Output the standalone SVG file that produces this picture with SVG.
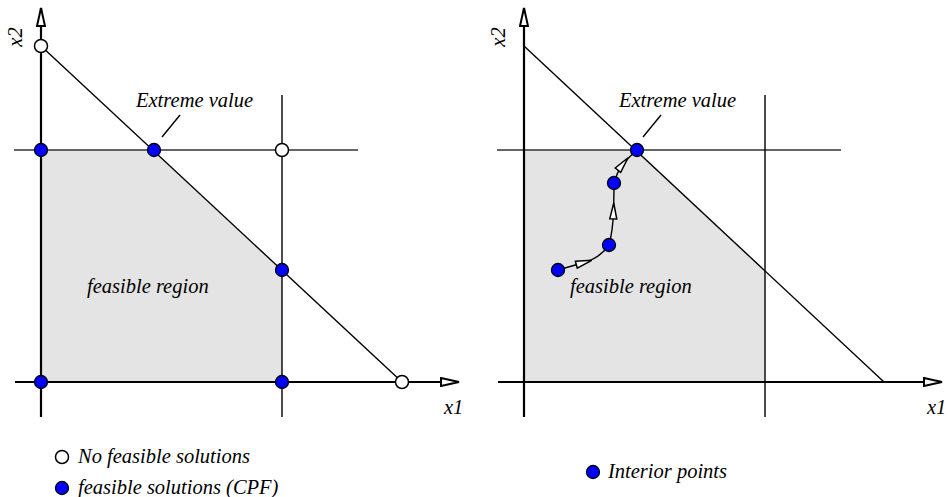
<svg xmlns="http://www.w3.org/2000/svg" width="950" height="497" viewBox="0 0 950 497">
<style>
.axis{stroke:#000;stroke-width:2.2;fill:none}
.ln{stroke:#000;stroke-width:1.4;fill:none}
.hl{stroke:#333;stroke-width:1.4;fill:none}
.reg{fill:#e4e4e4;stroke:none}
.cpf{fill:#0000ff;stroke:#000;stroke-width:1.3}
.nf{fill:#fff;stroke:#000;stroke-width:1.5}
.path{stroke:#000;stroke-width:1.4;fill:none}
</style>
<defs>
<marker id="ax" viewBox="0 0 20 10" refX="19" refY="5" markerWidth="20" markerHeight="10" markerUnits="userSpaceOnUse" orient="auto">
<path d="M1,1 L19,5 L1,9 Z" fill="#fff" stroke="#000" stroke-width="2"/>
</marker>
<marker id="mid" viewBox="0 0 18 10" refX="9" refY="5" markerWidth="18" markerHeight="10" markerUnits="userSpaceOnUse" orient="auto">
<path d="M1,1.5 L17,5 L1,8.5 Z" fill="#fff" stroke="#000" stroke-width="1.5"/>
</marker>
</defs>

<g id="left-panel">
<polygon class="reg" points="41,150 154,150 282,270 282,382 41,382"/>
<g id="left-lines">
<line class="hl" x1="14" y1="150" x2="358" y2="150"/>
<line class="ln" x1="282" y1="95" x2="282" y2="417"/>
<line class="ln" x1="41" y1="46" x2="402" y2="382"/>
<line class="ln" x1="162" y1="137" x2="180" y2="115"/>
<line class="axis" x1="41" y1="417" x2="41" y2="8" marker-end="url(#ax)"/>
<line class="axis" x1="15" y1="382" x2="459" y2="382" marker-end="url(#ax)"/>
</g>
<g font-family="Liberation Serif, serif" font-style="italic" font-size="20.5">
<text transform="translate(22,37) rotate(-90)" text-anchor="middle">x2</text>
<text x="444" y="414">x1</text>
<text x="136" y="107">Extreme value</text>
<text x="87" y="293">feasible region</text>
</g>
<g id="left-points">
<circle class="nf" cx="41" cy="46" r="6.5"/>
<circle class="nf" cx="282" cy="150" r="6.5"/>
<circle class="nf" cx="402" cy="382" r="6.5"/>
<circle class="cpf" cx="41" cy="150" r="6.5"/>
<circle class="cpf" cx="154" cy="150" r="6.5"/>
<circle class="cpf" cx="282" cy="270" r="6.5"/>
<circle class="cpf" cx="41" cy="382" r="6.5"/>
<circle class="cpf" cx="282" cy="382" r="6.5"/>
</g>
</g>

<g id="right-panel">
<polygon class="reg" points="524,150 637,150 765,270 765,382 524,382"/>
<g id="right-lines">
<line class="hl" x1="497" y1="150" x2="841" y2="150"/>
<line class="ln" x1="765" y1="95" x2="765" y2="417"/>
<line class="ln" x1="524" y1="46" x2="884" y2="382"/>
<line class="ln" x1="643" y1="137" x2="661" y2="115"/>
<line class="axis" x1="524" y1="417" x2="524" y2="8" marker-end="url(#ax)"/>
<line class="axis" x1="498" y1="382" x2="942" y2="382" marker-end="url(#ax)"/>
</g>
<g font-family="Liberation Serif, serif" font-style="italic" font-size="20.5">
<text transform="translate(505,37) rotate(-90)" text-anchor="middle">x2</text>
<text x="927" y="414">x1</text>
<text x="619" y="107">Extreme value</text>
<text x="570" y="293">feasible region</text>
</g>
<g id="connectors">
<path class="path" d="M558,270 L584,262.5 Q600,258 609,245" marker-mid="url(#mid)"/>
<path class="path" d="M609,245 Q613,230 613.5,211 Q614,195 614,183" marker-mid="url(#mid)"/>
<path class="path" d="M614,183 Q617,172 623,164 Q630,156 637,150" marker-mid="url(#mid)"/>
</g>
<g id="right-points">
<circle class="cpf" cx="558" cy="270" r="6.5"/>
<circle class="cpf" cx="609" cy="245" r="6.5"/>
<circle class="cpf" cx="614" cy="183" r="6.5"/>
<circle class="cpf" cx="637" cy="150" r="6.5"/>
</g>
</g>

<g id="legend">
<circle class="nf" cx="62" cy="457" r="6.5"/>
<circle class="cpf" cx="62" cy="488" r="6.5"/>
<circle class="cpf" cx="593" cy="472" r="6.5"/>
<g font-family="Liberation Serif, serif" font-style="italic" font-size="20.5">
<text x="78" y="463">No feasible solutions</text>
<text x="78" y="494">feasible solutions (CPF)</text>
<text x="608" y="478">Interior points</text>
</g>
</g>
</svg>
